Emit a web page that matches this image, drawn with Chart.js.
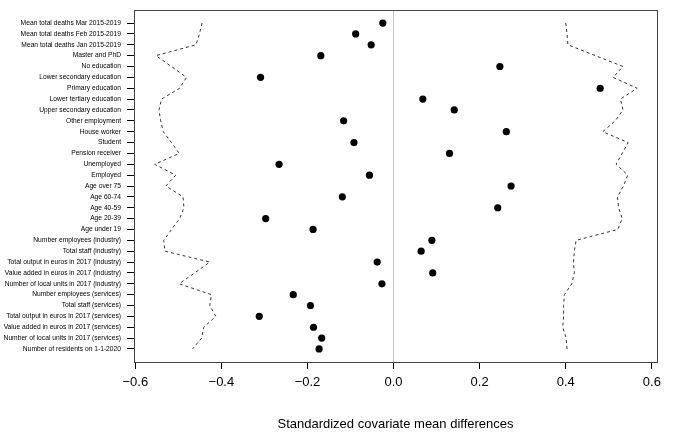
<!DOCTYPE html>
<html lang="en">
<head>
  <meta charset="UTF-8" />
  <title>Standardized covariate mean differences</title>
  <script src="https://cdn.jsdelivr.net/npm/chart.js"></script>
  <style>
    body {
      margin: 0;
      background: #ffffff;
    }
    canvas {
      display: block;
    }
  </style>
</head>
<body>
  <canvas id="grafica" width="693" height="432"></canvas>

  <script>
    // covariates, top to bottom
    const covariates = [
      'Mean total deaths Mar 2015-2019',
      'Mean total deaths Feb 2015-2019',
      'Mean total deaths Jan 2015-2019',
      'Master and PhD',
      'No education',
      'Lower secondary education',
      'Primary education',
      'Lower tertiary education',
      'Upper secondary education',
      'Other employment',
      'House worker',
      'Student',
      'Pension receiver',
      'Unemployed',
      'Employed',
      'Age over 75',
      'Age 60-74',
      'Age 40-59',
      'Age 20-39',
      'Age under 19',
      'Number employees (industry)',
      'Total staff (industry)',
      'Total output in euros in 2017 (industry)',
      'Value added in euros in 2017 (industry)',
      'Number of local units in 2017 (industry)',
      'Number employees (services)',
      'Total staff (services)',
      'Total output in euros in 2017 (services)',
      'Value added in euros in 2017 (services)',
      'Number of local units in 2017 (services)',
      'Number of residents on 1-1-2020'
    ];

    // observed standardized mean differences (dots)
    const meanDiff = [
      -0.025, -0.088, -0.052, -0.169, 0.247, -0.309, 0.480, 0.068, 0.141, -0.116,
      0.262, -0.092, 0.130, -0.266, -0.056, 0.273, -0.119, 0.242, -0.297, -0.187,
      0.089, 0.064, -0.038, 0.091, -0.027, -0.233, -0.193, -0.312, -0.186, -0.167,
      -0.173
    ];

    // dashed envelopes
    const lowerBand = [
      -0.445, -0.451, -0.459, -0.552, -0.516, -0.481, -0.497, -0.539, -0.545, -0.541,
      -0.535, -0.516, -0.498, -0.555, -0.506, -0.529, -0.489, -0.487, -0.497, -0.516,
      -0.534, -0.531, -0.427, -0.462, -0.498, -0.423, -0.427, -0.413, -0.441, -0.446,
      -0.467
    ];
    const upperBand = [
      0.400, 0.403, 0.405, 0.469, 0.533, 0.510, 0.566, 0.527, 0.533, 0.515,
      0.486, 0.545, 0.531, 0.517, 0.544, 0.534, 0.520, 0.523, 0.531, 0.521,
      0.424, 0.420, 0.418, 0.420, 0.414, 0.397, 0.395, 0.395, 0.393, 0.401,
      0.403
    ];

    const xTicks = [-0.6, -0.4, -0.2, 0, 0.2, 0.4, 0.6];

    const toPoints = arr => arr.map((v, i) => ({ x: v, y: i }));

    // box around the plot region
    const boxPlugin = {
      id: 'box',
      beforeDatasetsDraw(chart) {
        const a = chart.chartArea;
        const ctx = chart.ctx;
        ctx.save();
        ctx.strokeStyle = '#444';
        ctx.lineWidth = 1;
        ctx.strokeRect(Math.round(a.left) + 0.5, Math.round(a.top) + 0.5,
          Math.round(a.right - a.left), Math.round(a.bottom - a.top));
        ctx.restore();
      }
    };

    const config = {
      type: 'scatter',
      data: {
        datasets: [
          {
            data: toPoints(lowerBand),
            showLine: true,
            borderColor: '#333',
            borderWidth: 1,
            borderDash: [3, 3],
            pointRadius: 0,
            tension: 0
          },
          {
            data: toPoints(upperBand),
            showLine: true,
            borderColor: '#333',
            borderWidth: 1,
            borderDash: [3, 3],
            pointRadius: 0,
            tension: 0
          },
          {
            data: toPoints(meanDiff),
            backgroundColor: '#000',
            borderWidth: 0,
            pointRadius: 3.6
          }
        ]
      },
      options: {
        responsive: false,
        animation: false,
        layout: { padding: { top: 6, right: 36, left: 0, bottom: 0 } },
        plugins: {
          legend: { display: false },
          tooltip: { enabled: false }
        },
        scales: {
          x: {
            type: 'linear',
            min: -0.603,
            max: 0.612,
            afterBuildTicks: s => { s.ticks = xTicks.map(v => ({ value: v })); },
            afterFit: s => { s.height = 70; },
            ticks: {
              color: '#000',
              padding: 6,
              maxRotation: 0,
              font: { family: 'Liberation Sans, Arial, sans-serif', size: 13 },
              callback: v => (v === 0 ? '0.0' : v.toFixed(1).replace('-', '\u2212'))
            },
            grid: {
              color: c => (c.tick && c.tick.value === 0 ? '#c4c4c4' : 'rgba(0,0,0,0)'),
              tickColor: '#000',
              tickLength: 7,
              lineWidth: 1
            },
            border: { display: true, color: '#000' },
            title: {
              display: true,
              text: 'Standardized covariate mean differences',
              color: '#000',
              padding: { top: 0, bottom: 0 },
              font: { family: 'Liberation Sans, Arial, sans-serif', size: 13 }
            }
          },
          y: {
            type: 'linear',
            reverse: true,
            min: -1.2,
            max: 31.2,
            afterBuildTicks: s => { s.ticks = covariates.map((c, i) => ({ value: i })); },
            afterFit: s => { s.width = 134; },
            ticks: {
              color: '#000',
              padding: 6,
              autoSkip: false,
              font: { family: 'Liberation Sans, Arial, sans-serif', size: 6.7 },
              callback: v => covariates[v]
            },
            grid: {
              drawOnChartArea: false,
              tickColor: '#000',
              tickLength: 7
            },
            border: { display: true, color: '#000' }
          }
        }
      },
      plugins: [boxPlugin]
    };

    const ctx = document.getElementById('grafica').getContext('2d');
    window.miGrafica = new Chart(ctx, config);
  </script>
</body>
</html>
